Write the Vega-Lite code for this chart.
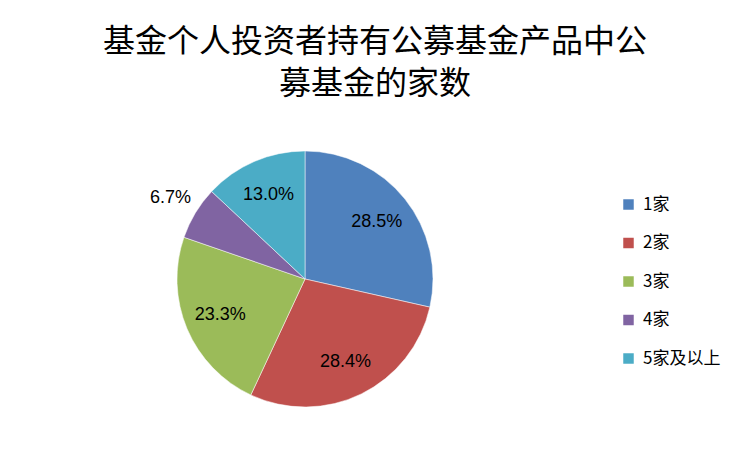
{
  "$schema": "https://vega.github.io/schema/vega-lite/v6.json",
  "autosize": {"type": "none"},
  "width": 256,
  "height": 256,
  "padding": {"left": 177, "top": 151, "right": 319, "bottom": 45},
  "background": "white",
  "title": {
    "text": ["基金个人投资者持有公募基金产品中公", "募基金的家数"],
    "font": "Noto Sans CJK SC",
    "fontSize": 32,
    "fontWeight": "normal",
    "color": "black",
    "lineHeight": 42,
    "anchor": "middle",
    "frame": "group",
    "dx": 70,
    "offset": 25
  },
  "data": {
    "values": [
      {"category": "1家", "pct": 0.285},
      {"category": "2家", "pct": 0.284},
      {"category": "3家", "pct": 0.233},
      {"category": "4家", "pct": 0.067},
      {"category": "5家及以上", "pct": 0.130}
    ]
  },
  "encoding": {
    "theta": {"field": "pct", "type": "quantitative", "stack": true},
    "order": {"field": "category", "type": "nominal"}
  },
  "layer": [
    {
      "mark": {"type": "arc", "outerRadius": 128, "stroke": "white", "strokeWidth": 0.5},
      "encoding": {
        "color": {
          "field": "category",
          "type": "nominal",
          "scale": {
            "domain": ["1家", "2家", "3家", "4家", "5家及以上"],
            "range": ["#4F81BD", "#C0504D", "#9BBB59", "#8064A2", "#4BACC6"]
          },
          "legend": {
            "title": null,
            "orient": "none",
            "legendX": 443,
            "legendY": 45,
            "padding": 0,
            "symbolType": "square",
            "symbolSize": 110,
            "symbolStrokeWidth": 0,
            "labelFont": "Noto Sans CJK SC",
            "labelFontSize": 17,
            "labelColor": "black",
            "labelOffset": 6,
            "rowPadding": 20.5
          }
        }
      }
    },
    {
      "mark": {"type": "text", "radius": 92, "font": "Liberation Sans", "fontSize": 18, "color": "black"},
      "encoding": {
        "text": {
          "condition": {"test": "datum.category !== '4家'", "field": "pct", "type": "quantitative", "format": ".1%"},
          "value": ""
        }
      }
    },
    {
      "mark": {"type": "text", "radius": 157, "font": "Liberation Sans", "fontSize": 18, "color": "black"},
      "encoding": {
        "text": {
          "condition": {"test": "datum.category === '4家'", "field": "pct", "type": "quantitative", "format": ".1%"},
          "value": ""
        }
      }
    }
  ]
}
